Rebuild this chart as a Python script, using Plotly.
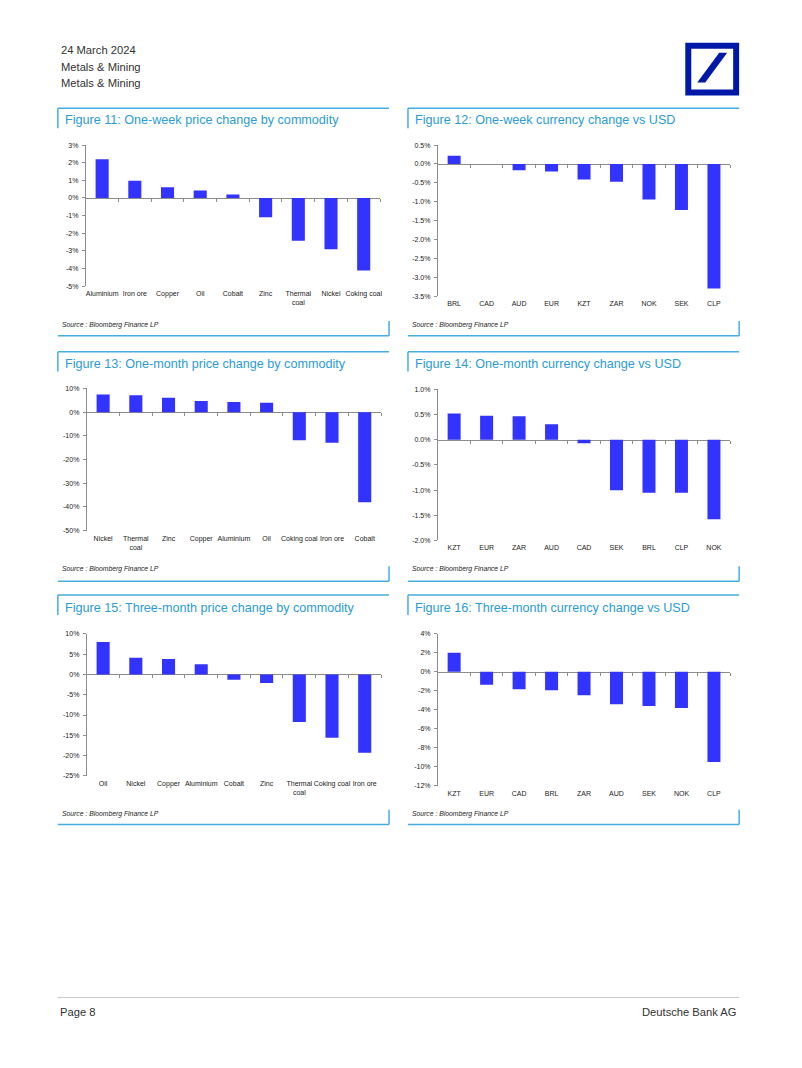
import plotly.graph_objects as go

W, H = 802, 1068

# ---------------- data ----------------
f11_cats = ["Aluminium", "Iron ore", "Copper", "Oil", "Cobalt", "Zinc", "Thermal<br>coal", "Nickel", "Coking coal"]
f11_vals = [2.20, 0.97, 0.61, 0.43, 0.20, -1.09, -2.42, -2.91, -4.11]
f11_ticks = [3, 2, 1, 0, -1, -2, -3, -4, -5]

f12_cats = ["BRL", "CAD", "AUD", "EUR", "KZT", "ZAR", "NOK", "SEK", "CLP"]
f12_vals = [0.22, 0.00, -0.17, -0.20, -0.41, -0.47, -0.94, -1.22, -3.30]
f12_ticks = [0.5, 0.0, -0.5, -1.0, -1.5, -2.0, -2.5, -3.0, -3.5]

f13_cats = ["Nickel", "Thermal<br>coal", "Zinc", "Copper", "Aluminium", "Oil", "Coking coal", "Iron ore", "Cobalt"]
f13_vals = [7.5, 7.1, 6.1, 4.7, 4.3, 4.0, -11.9, -12.9, -38.1]
f13_ticks = [10, 0, -10, -20, -30, -40, -50]

f14_cats = ["KZT", "EUR", "ZAR", "AUD", "CAD", "SEK", "BRL", "CLP", "NOK"]
f14_vals = [0.52, 0.48, 0.47, 0.31, -0.07, -1.00, -1.05, -1.05, -1.58]
f14_ticks = [1.0, 0.5, 0.0, -0.5, -1.0, -1.5, -2.0]

f15_cats = ["Oil", "Nickel", "Copper", "Aluminium", "Cobalt", "Zinc", "Thermal<br>coal", "Coking coal", "Iron ore"]
f15_vals = [8.0, 4.1, 3.8, 2.5, -1.3, -2.1, -11.7, -15.6, -19.3]
f15_ticks = [10, 5, 0, -5, -10, -15, -20, -25]

f16_cats = ["KZT", "EUR", "CAD", "BRL", "ZAR", "AUD", "SEK", "NOK", "CLP"]
f16_vals = [2.0, -1.36, -1.84, -1.95, -2.47, -3.40, -3.59, -3.80, -9.50]
f16_ticks = [4, 2, 0, -2, -4, -6, -8, -10, -12]

titles = [
    "Figure 11: One-week price change by commodity",
    "Figure 12: One-week currency change vs USD",
    "Figure 13: One-month price change by commodity",
    "Figure 14: One-month currency change vs USD",
    "Figure 15: Three-month price change by commodity",
    "Figure 16: Three-month currency change vs USD",
]
source_text = "Source : Bloomberg Finance LP"
header_lines = ["24 March 2024", "Metals & Mining", "Metals & Mining"]
footer_left = "Page 8"
footer_right = "Deutsche Bank AG"

# ---------------- styling / layout (pixels) ----------------
FONT = "Liberation Sans, Arial, sans-serif"
BAR = "#3333FF"
TITLE_C = "#2B9CD6"
BOX_C = "#46AEE2"
AXIS_C = "#8C8C8C"
TXT = "#222222"

def px(x):
    return x / W

def py(y):
    return 1 - y / H

panels = [
    dict(cats=f11_cats, vals=f11_vals, ticks=f11_ticks, dec=0, plot=(86, 381, 142, 284)),
    dict(cats=f12_cats, vals=f12_vals, ticks=f12_ticks, dec=1, plot=(439, 732, 142, 294)),
    dict(cats=f13_cats, vals=f13_vals, ticks=f13_ticks, dec=0, plot=(87, 382, 387, 530)),
    dict(cats=f14_cats, vals=f14_vals, ticks=f14_ticks, dec=1, plot=(439, 732, 388, 540)),
    dict(cats=f15_cats, vals=f15_vals, ticks=f15_ticks, dec=0, plot=(87, 382, 634, 777)),
    dict(cats=f16_cats, vals=f16_vals, ticks=f16_ticks, dec=0, plot=(439, 732, 634, 787)),
]

boxes_x = [(58, 390), (409, 741)]
boxes_y = [(105, 334), (350, 581), (595, 826)]
title_y = [117, 362, 608]
source_y = [323, 569, 815]

fig = go.Figure()
layout = dict(
    width=W, height=H,
    margin=dict(l=0, r=0, t=0, b=0),
    paper_bgcolor="white", plot_bgcolor="rgba(0,0,0,0)",
    showlegend=False,
    font=dict(family=FONT, color=TXT),
    bargap=0.6,
)
annotations = []
shapes = []

n_p = len(panels)
for i, p in enumerate(panels):
    k = i + 1
    kz = i + 1 + n_p
    x0, x1, y0, y1 = p["plot"]
    n = len(p["cats"])
    ymin, ymax = min(p["ticks"]), max(p["ticks"])
    xdom = [px(x0), px(x1)]
    ydom = [py(y1), py(y0)]
    zero_pos = ydom[0] + (0 - ymin) / (ymax - ymin) * (ydom[1] - ydom[0])
    idx = list(range(n))

    fig.add_trace(go.Bar(
        x=idx, y=p["vals"], xaxis=f"x{k}", yaxis=f"y{k}",
        marker=dict(color=BAR, line=dict(width=0)), width=0.4,
        hoverinfo="skip",
    ))
    fig.add_trace(go.Scatter(
        x=[-0.5, n - 0.5], y=[0, 0], xaxis=f"x{kz}", yaxis=f"y{k}",
        mode="lines", line=dict(width=0, color="rgba(0,0,0,0)"), hoverinfo="skip",
    ))

    fmt = "{:.%df}%%" % p["dec"]
    layout[f"xaxis{k}"] = dict(
        domain=xdom, anchor=f"y{k}", range=[-0.5, n - 0.5],
        tickmode="array", tickvals=idx, ticktext=p["cats"],
        showline=False, ticks="", showgrid=False, zeroline=False,
        tickfont=dict(size=7, color=TXT, family=FONT), tickangle=0,
        ticklabelstandoff=2, fixedrange=True,
    )
    layout[f"xaxis{kz}"] = dict(
        overlaying=f"x{k}", anchor="free", position=zero_pos, range=[-0.5, n - 0.5],
        tickmode="array", tickvals=[j + 0.5 for j in range(-1, n)],
        showline=True, linecolor=AXIS_C, linewidth=1,
        ticks="outside", ticklen=3, tickcolor=AXIS_C, tickwidth=1,
        showticklabels=False, showgrid=False, zeroline=False, fixedrange=True,
        layer="below traces",
    )
    layout[f"yaxis{k}"] = dict(
        domain=ydom, anchor=f"x{k}", range=[ymin, ymax],
        tickmode="array", tickvals=p["ticks"], ticktext=[fmt.format(v) for v in p["ticks"]],
        showline=True, linecolor=AXIS_C, linewidth=1,
        ticks="outside", ticklen=3, tickcolor=AXIS_C, tickwidth=1,
        showgrid=False, zeroline=False,
        tickfont=dict(size=7, color=TXT, family=FONT), ticklabelstandoff=2, fixedrange=True,
    )

# panel boxes, titles and sources
for r in range(3):
    for c in range(2):
        i = r * 2 + c
        bx0, bx1 = boxes_x[c]
        by0, by1 = boxes_y[r]
        line = dict(color=BOX_C, width=1.5)
        shapes.append(dict(type="line", xref="paper", yref="paper",
                           x0=px(bx0), x1=px(bx1), y0=py(by0), y1=py(by0), line=line))
        shapes.append(dict(type="line", xref="paper", yref="paper",
                           x0=px(bx0), x1=px(bx0), y0=py(by0), y1=py(by0 + 20), line=line))
        shapes.append(dict(type="line", xref="paper", yref="paper",
                           x0=px(bx0), x1=px(bx1), y0=py(by1), y1=py(by1), line=line))
        shapes.append(dict(type="line", xref="paper", yref="paper",
                           x0=px(bx1), x1=px(bx1), y0=py(by1), y1=py(by1 - 15), line=line))
        annotations.append(dict(
            text=titles[i], xref="paper", yref="paper", x=px(bx0 + 5), y=py(title_y[r]),
            xanchor="left", yanchor="middle", showarrow=False,
            font=dict(size=12.6, color=TITLE_C, family=FONT),
        ))
        annotations.append(dict(
            text="<i>" + source_text + "</i>", xref="paper", yref="paper",
            x=px(bx0 + 2), y=py(source_y[r]),
            xanchor="left", yanchor="middle", showarrow=False,
            font=dict(size=6.8, color=TXT, family=FONT),
        ))

# header
for j, t in enumerate(header_lines):
    annotations.append(dict(
        text=t, xref="paper", yref="paper", x=px(59), y=py(46 + 17 * j),
        xanchor="left", yanchor="middle", showarrow=False,
        font=dict(size=11.2, color="#333333", family=FONT),
    ))

# logo
shapes.append(dict(type="rect", xref="paper", yref="paper",
                   x0=px(687), x1=px(741), y0=py(92), y1=py(39),
                   fillcolor="#0018A8", line=dict(width=0)))
shapes.append(dict(type="rect", xref="paper", yref="paper",
                   x0=px(693), x1=px(735), y0=py(86), y1=py(45),
                   fillcolor="white", line=dict(width=0)))
pts = [(699, 79), (707, 79), (729, 49), (721, 49)]
path = "M " + " L ".join(f"{px(a):.5f},{py(b):.5f}" for a, b in pts) + " Z"
shapes.append(dict(type="path", xref="paper", yref="paper", path=path,
                   fillcolor="#0018A8", line=dict(width=0)))

# footer
shapes.append(dict(type="line", xref="paper", yref="paper",
                   x0=px(58), x1=px(741), y0=py(1000), y1=py(1000),
                   line=dict(color="#C8C8C8", width=1)))
annotations.append(dict(text=footer_left, xref="paper", yref="paper", x=px(58), y=py(1015),
                        xanchor="left", yanchor="middle", showarrow=False,
                        font=dict(size=11.2, color="#333333", family=FONT)))
annotations.append(dict(text=footer_right, xref="paper", yref="paper", x=px(741), y=py(1015),
                        xanchor="right", yanchor="middle", showarrow=False,
                        font=dict(size=11.2, color="#333333", family=FONT)))

layout["annotations"] = annotations
layout["shapes"] = shapes
fig.update_layout(**layout)

fig.write_html("out.html", config={"displayModeBar": False},
               post_script="document.body.style.margin='0';document.body.style.overflow='hidden';")
